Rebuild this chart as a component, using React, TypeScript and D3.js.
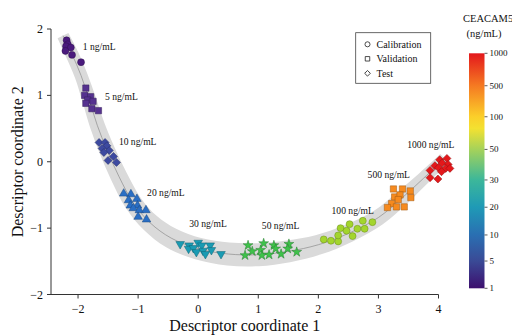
import React from 'react';
import * as d3 from 'd3';

// concentration levels (ng/mL) and their point clouds [coord1, coord2]
const levels = [1, 5, 10, 20, 30, 50, 100, 500, 1000];

const pts1 = [[-2.19, 1.83], [-2.17, 1.77], [-2.2, 1.74], [-2.12, 1.72], [-2.21, 1.67], [-2.1, 1.61], [-1.95, 1.5]];
const pts5 = [[-1.87, 1.11], [-1.89, 1.0], [-1.79, 0.98], [-1.84, 0.93], [-1.75, 0.91], [-1.87, 0.88], [-1.77, 0.8], [-1.66, 0.77]];
const pts10 = [[-1.65, 0.29], [-1.55, 0.29], [-1.52, 0.24], [-1.6, 0.2], [-1.48, 0.17], [-1.57, 0.14], [-1.41, 0.08], [-1.5, 0.02], [-1.36, -0.01]];
const pts20 = [[-1.24, -0.48], [-1.12, -0.49], [-1.16, -0.58], [-1.02, -0.56], [-1.13, -0.66], [-1.01, -0.66], [-1.08, -0.7], [-0.98, -0.73], [-0.87, -0.73], [-1.0, -0.83], [-0.86, -0.87]];
const pts30 = [[-0.3, -1.24], [-0.15, -1.26], [-0.16, -1.31], [-0.08, -1.3], [0.0, -1.22], [0.06, -1.26], [-0.03, -1.36], [0.08, -1.34], [0.12, -1.39], [0.2, -1.26], [0.22, -1.33], [0.38, -1.39]];
const pts50 = [[0.83, -1.26], [0.9, -1.35], [0.78, -1.41], [1.09, -1.23], [1.04, -1.33], [1.06, -1.41], [1.18, -1.4], [1.26, -1.26], [1.29, -1.31], [1.38, -1.39], [1.51, -1.24], [1.49, -1.31], [1.64, -1.36]];
const pts100 = [[2.09, -1.17], [2.21, -1.19], [2.33, -1.2], [2.33, -1.11], [2.37, -1.0], [2.47, -1.04], [2.52, -0.94], [2.57, -1.12], [2.65, -1.01], [2.74, -0.89], [2.77, -1.01], [2.9, -0.91]];
const pts500 = [[3.25, -0.41], [3.4, -0.41], [3.53, -0.44], [3.27, -0.53], [3.36, -0.5], [3.33, -0.57], [3.54, -0.54], [3.22, -0.63], [3.3, -0.68], [3.43, -0.68], [3.15, -0.69]];
const pts1000 = [[4.02, 0.03], [4.14, 0.05], [4.06, -0.02], [4.16, -0.04], [3.94, -0.06], [4.0, -0.09], [4.12, -0.1], [4.19, -0.1], [3.86, -0.13], [4.05, -0.15], [3.86, -0.24], [3.99, -0.26]];

const clusters = [pts1, pts5, pts10, pts20, pts30, pts50, pts100, pts500, pts1000];

// fitted trajectory through the clusters
const trend = [[-2.25, 1.9], [-2.1, 1.62], [-1.95, 1.3], [-1.82, 0.95], [-1.68, 0.55], [-1.52, 0.18], [-1.32, -0.22], [-1.08, -0.62], [-0.8, -0.92], [-0.45, -1.15], [0.0, -1.31], [0.5, -1.39], [1.0, -1.4], [1.5, -1.35], [2.0, -1.25], [2.5, -1.08], [3.0, -0.84], [3.4, -0.54], [3.75, -0.25], [4.1, 0.05]];

// label anchor per level
const labelAt = [[-1.92, 1.68], [-1.55, 0.93], [-1.32, 0.25], [-0.85, -0.52], [-0.15, -0.99], [1.06, -1.02], [2.22, -0.78], [2.82, -0.24], [3.48, 0.2]];

const xTicks = [-2, -1, 0, 1, 2, 3, 4];
const yTicks = [-2, -1, 0, 1, 2];
const legendItems = ['Calibration', 'Validation', 'Test'];

const markerColors = ['#4a1a7d', '#55318f', '#3d4aa0', '#2a6ec4', '#1a9bb3', '#3ec24a', '#a3d52d', '#f68a1e', '#e4181b'];
// shape kinds: o circle, s square, d diamond, t triangle up, v triangle down, * star
const shapes = ['o', 's', 'd', 't', 'v', '*', 'o', 's', 'd'];
const shapeSize = [38, 40, 32, 32, 32, 30, 38, 40, 32];
const bandPx = [12, 13, 13, 14, 15, 16, 17, 18, 19, 21, 22, 23, 23, 22, 20, 18, 16, 15, 13, 12];

const barFrac = [0, 0.116, 0.227, 0.345, 0.461, 0.591, 0.73, 0.862, 1];
const barStops: [number, string][] = [
  [0, '#3d0f6e'], [0.116, '#3a4a96'], [0.227, '#2a6fb2'], [0.345, '#1f9ab6'], [0.461, '#3cb79a'],
  [0.591, '#a5d25a'], [0.68, '#f3e131'], [0.73, '#fbcf2a'], [0.862, '#f57a22'], [1, '#e3171c'],
];

const font = '"Liberation Serif", "Times New Roman", serif';

function marker(kind: string, size: number) {
  const type = kind === 'o' ? d3.symbolCircle
    : kind === 's' || kind === 'd' ? d3.symbolSquare
    : kind === '*' ? d3.symbolStar : d3.symbolTriangle;
  const rot = kind === 'd' ? 45 : kind === 'v' ? 180 : 0;
  return { d: d3.symbol(type, size)() as string, rot };
}

export default function App() {
  const width = 512;
  const height = 335;

  const x = d3.scaleLinear().domain([-2.45, 4]).range([51, 438.5]);
  const y = d3.scaleLinear().domain([-2, 2]).range([294.5, 29]);

  const bar = { x: 469, w: 15.5, top: 53.3, bottom: 288.3 };
  const cb = d3.scaleLinear().domain(levels).range(barFrac.map(f => bar.bottom - f * (bar.bottom - bar.top)));

  // band polygon around the trend
  const P = trend.map(([a, b]) => [x(a), y(b)] as [number, number]);
  const upper: [number, number][] = [];
  const lower: [number, number][] = [];
  P.forEach((p, i) => {
    const a = P[Math.max(0, i - 1)];
    const b = P[Math.min(P.length - 1, i + 1)];
    const dx = b[0] - a[0], dy = b[1] - a[1];
    const len = Math.hypot(dx, dy);
    const nx = -dy / len, ny = dx / len;
    const h = bandPx[i] / 2;
    upper.push([p[0] + nx * h, p[1] + ny * h]);
    lower.push([p[0] - nx * h, p[1] - ny * h]);
  });
  const line = d3.line().curve(d3.curveCatmullRom);
  const bandPath = line(upper) + 'L' + (line(lower.slice().reverse()) as string).slice(1) + 'Z';

  return (
    <svg width={width} height={height} style={{ position: 'absolute', left: 0, top: 0, background: '#fff' }} fontFamily={font}>
      <defs>
        <linearGradient id="cbar" x1="0" y1="1" x2="0" y2="0">
          {barStops.map(([o, c]) => <stop key={o} offset={o} stopColor={c} />)}
        </linearGradient>
      </defs>

      {/* trend band */}
      <path d={bandPath} fill="#dadada" />
      <path d={line(P) as string} fill="none" stroke="#8c8c8c" strokeWidth={0.7} />

      {/* points */}
      {clusters.map((pts, ci) => {
        const m = marker(shapes[ci], shapeSize[ci]);
        const c = markerColors[ci];
        const edge = d3.color(c)!.darker(1.2).formatHex();
        return (
          <g key={ci}>
            {pts.map(([a, b], i) => (
              <path key={i} d={m.d} fill={c} stroke={edge} strokeWidth={0.5}
                transform={`translate(${x(a)},${y(b)}) rotate(${m.rot})`} />
            ))}
          </g>
        );
      })}

      {/* cluster labels */}
      {levels.map((lv, i) => (
        <text key={lv} x={x(labelAt[i][0])} y={y(labelAt[i][1])} fontSize={9.6} fill="#111">{`${lv} ng/mL`}</text>
      ))}

      {/* axes */}
      <line x1={x.range()[0]} x2={x(4)} y1={y(-2)} y2={y(-2)} stroke="#333" strokeWidth={1} />
      <line x1={x.range()[0]} x2={x.range()[0]} y1={y(-2)} y2={y(2)} stroke="#333" strokeWidth={1} />
      {xTicks.map(t => (
        <g key={t}>
          <line x1={x(t)} x2={x(t)} y1={y(-2)} y2={y(-2) + 4} stroke="#333" />
          <text x={x(t)} y={y(-2) + 18} textAnchor="middle" fontSize={12} fill="#111">{t < 0 ? `\u2212${-t}` : t}</text>
        </g>
      ))}
      {yTicks.map(t => (
        <g key={t}>
          <line x1={x.range()[0] - 4} x2={x.range()[0]} y1={y(t)} y2={y(t)} stroke="#333" />
          <text x={x.range()[0] - 8} y={y(t) + 4} textAnchor="end" fontSize={12} fill="#111">{t < 0 ? `\u2212${-t}` : t}</text>
        </g>
      ))}
      <text x={(x.range()[0] + x(4)) / 2} y={331} textAnchor="middle" fontSize={16} fill="#111">Descriptor coordinate 1</text>
      <text transform={`translate(23,${(y(-2) + y(2)) / 2}) rotate(-90)`} textAnchor="middle" fontSize={16} fill="#111">Descriptor coordinate 2</text>

      {/* legend */}
      <rect x={355.7} y={32.7} width={75} height={50.6} fill="#fff" stroke="#444" strokeWidth={0.8} />
      {legendItems.map((name, i) => {
        const m = marker(['o', 's', 'd'][i], i === 2 ? 16 : 20);
        const cy = 44.3 + i * 14.5;
        return (
          <g key={name}>
            <path d={m.d} transform={`translate(367.5,${cy}) rotate(${m.rot})`} fill="#fff" stroke="#222" strokeWidth={0.8} />
            <text x={376.5} y={cy + 3.5} fontSize={10} fill="#111">{name}</text>
          </g>
        );
      })}

      {/* colour bar */}
      <text x={463} y={22} fontSize={10.5} fill="#111">CEACAM5</text>
      <text x={484} y={37} textAnchor="middle" fontSize={10.5} fill="#111">(ng/mL)</text>
      <rect x={bar.x} y={bar.top} width={bar.w} height={bar.bottom - bar.top} fill="url(#cbar)" />
      {levels.map(lv => (
        <g key={lv}>
          <line x1={bar.x + bar.w} x2={bar.x + bar.w + 3} y1={cb(lv)} y2={cb(lv)} stroke="#333" strokeWidth={0.8} />
          <text x={bar.x + bar.w + 5} y={cb(lv) + 3} fontSize={9} fill="#111">{lv}</text>
        </g>
      ))}
    </svg>
  );
}
